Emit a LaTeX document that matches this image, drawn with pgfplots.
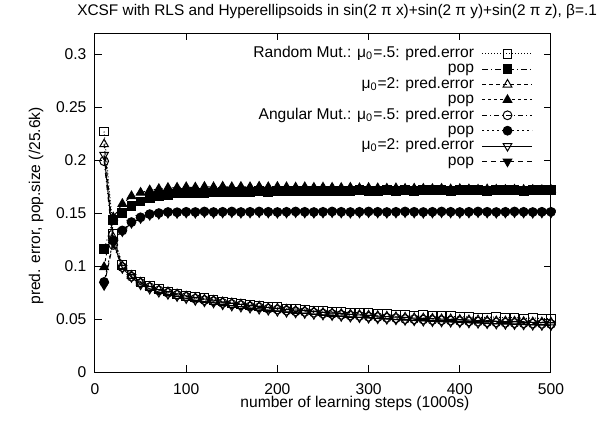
\documentclass[border=0pt]{standalone}
\usepackage{fontspec}
\setmainfont{Liberation Sans}
\usepackage{pgfplots}
\usepackage{pgfplotstable}
\pgfplotsset{compat=1.18}

\pgfplotstableread{
x   RA     RP     RB     RBP    AA     AP     AB     ABP
10  0.227  0.116  0.215  0.099  0.199  0.085  0.205  0.082
20  0.130  0.1435 0.127  0.146  0.120  0.124  0.123  0.122
30  0.101  0.150  0.100  0.1587 0.099  0.1336 0.098  0.1328
40  0.092  0.157  0.091  0.166  0.090  0.1415 0.0895 0.1407
50  0.085  0.161  0.0845 0.1693 0.084  0.146  0.0825 0.1452
60  0.081  0.164  0.0805 0.1715 0.080  0.149  0.0785 0.1482
70  0.078  0.1656 0.0775 0.1728 0.077  0.150  0.0755 0.1492
80  0.076  0.167  0.0755 0.1738 0.0748 0.151  0.0735 0.1502
90  0.074  0.1685 0.0735 0.174  0.0728 0.1508 0.0715 0.150
100 0.072  0.169  0.0715 0.1745 0.071  0.1512 0.0695 0.1504
110 0.0705 0.1692 0.070  0.1742 0.0692 0.151  0.0678 0.1502
120 0.0695 0.169  0.0685 0.1748 0.0678 0.1515 0.0665 0.1507
130 0.068  0.1695 0.0675 0.1745 0.0668 0.151  0.0655 0.1502
140 0.0665 0.170  0.066  0.175  0.0652 0.1512 0.0637 0.1504
150 0.0655 0.1698 0.065  0.1745 0.064  0.1515 0.0625 0.1507
160 0.0645 0.170  0.064  0.1748 0.063  0.151  0.0615 0.1502
170 0.0635 0.1702 0.0625 0.1745 0.0618 0.1512 0.0605 0.1504
180 0.0625 0.1705 0.062  0.175  0.061  0.1515 0.0595 0.1507
190 0.0615 0.170  0.0605 0.1745 0.0598 0.1512 0.0585 0.1504
200 0.061  0.1705 0.060  0.1748 0.059  0.151  0.0575 0.1502
210 0.060  0.171  0.059  0.1745 0.058  0.1512 0.0566 0.1504
220 0.0595 0.1705 0.058  0.1742 0.0572 0.1515 0.056  0.1507
230 0.059  0.171  0.0578 0.1745 0.0568 0.1512 0.0555 0.1504
240 0.058  0.1708 0.057  0.174  0.056  0.151  0.0546 0.1502
250 0.0575 0.171  0.056  0.1742 0.0552 0.1512 0.054  0.1504
260 0.057  0.1712 0.0558 0.174  0.0548 0.1515 0.0535 0.1507
270 0.0565 0.171  0.055  0.1738 0.054  0.1512 0.0527 0.1504
280 0.056  0.1712 0.0545 0.174  0.0533 0.151  0.052  0.1502
290 0.0555 0.1715 0.054  0.1735 0.053  0.1512 0.0515 0.1504
300 0.0555 0.171  0.0535 0.1738 0.0522 0.1515 0.051  0.1507
310 0.055  0.1712 0.053  0.1735 0.0518 0.1512 0.0505 0.1504
320 0.0545 0.1715 0.0525 0.1732 0.0512 0.151  0.050  0.1502
330 0.054  0.1712 0.052  0.1735 0.0508 0.1512 0.0495 0.1504
340 0.054  0.1715 0.0515 0.173  0.050  0.1515 0.049  0.1507
350 0.053  0.1712 0.051  0.1732 0.0498 0.1512 0.0486 0.1504
360 0.0535 0.1715 0.0508 0.173  0.0495 0.151  0.0482 0.1502
370 0.053  0.1718 0.0505 0.1728 0.049  0.1512 0.0478 0.1504
380 0.0525 0.1715 0.050  0.173  0.0488 0.1515 0.0475 0.1507
390 0.0525 0.1712 0.050  0.1725 0.0485 0.1512 0.0472 0.1504
400 0.052  0.1715 0.0495 0.1728 0.048  0.151  0.0468 0.1502
410 0.052  0.1718 0.049  0.1725 0.0478 0.1512 0.0465 0.1504
420 0.0515 0.1715 0.049  0.1722 0.0475 0.1515 0.0462 0.1507
430 0.0515 0.1712 0.0485 0.1725 0.047  0.1512 0.0458 0.1504
440 0.052  0.1715 0.048  0.1722 0.0468 0.151  0.0455 0.1502
450 0.051  0.1718 0.048  0.172  0.0465 0.1512 0.0452 0.1504
460 0.0515 0.1715 0.0478 0.1722 0.0462 0.1515 0.045  0.1507
470 0.0505 0.1712 0.0475 0.172  0.046  0.1512 0.0447 0.1504
480 0.051  0.1715 0.047  0.172  0.0457 0.151  0.0444 0.1502
490 0.0505 0.1715 0.047  0.1718 0.0455 0.1512 0.0442 0.1504
500 0.0505 0.1715 0.0468 0.172  0.0452 0.1512 0.044  0.1504
}\data

\begin{document}
\fontsize{7.8bp}{9.4bp}\selectfont
\begin{tikzpicture}
\begin{axis}[
  scale only axis, width=228bp, height=169.5bp,
  xmin=0, xmax=500, ymin=0, ymax=0.32,
  xtick={0,100,200,300,400,500},
  ytick={0,0.05,0.1,0.15,0.2,0.25,0.3},
  tick align=inside, tick pos=both, major tick length=3.5bp,
  axis line style={line width=0.5bp},
  every tick/.style={black, line width=0.5bp},
  /pgf/number format/assume math mode=true,
  yticklabel style={/pgf/number format/fixed, /pgf/number format/precision=2, xshift=-1.5bp},
  xticklabel style={yshift=-3bp},
  every axis title shift=0pt,
  title={XCSF with RLS and Hyperellipsoids in sin(2 π x)+sin(2 π y)+sin(2 π z), β=.1},
  title style={at={(axis description cs:0.531,1.062)}, anchor=center, inner sep=0pt,
    font=\fontsize{7.7bp}{9.2bp}\selectfont},
  xlabel={number of learning steps (1000s)},
  xlabel style={at={(axis description cs:0.570,-0.094)}, anchor=center, inner sep=0pt},
  ylabel={pred. error, pop.size (/25.6k)},
  ylabel style={at={(axis description cs:-0.129,0.49)}, anchor=center, inner sep=0pt},
  legend plot pos=right, legend cell align=right,
  legend image code/.code={\draw[mark repeat=2,mark phase=2,#1] plot coordinates {(0bp,0bp) (12.5bp,0bp) (25bp,0bp)};},
  legend style={draw=none, fill=none, inner sep=0pt, outer sep=0pt,
    at={(axis description cs:1,1)}, anchor=north east,
    xshift=-9bp, yshift=-6.5bp, column sep=4bp, row sep=0pt,
    nodes={inner sep=0pt, text height=5.7bp, text depth=2bp}},
  every axis plot/.append style={line width=0.5bp, black, mark size=2.2bp},
]
\coordinate (SW) at (rel axis cs:0,0);
\coordinate (NE) at (rel axis cs:1,1);
\addplot[dash pattern=on 0.5bp off 1bp, mark=square, mark options={solid}] table[x=x,y=RA]{\data};
\addlegendentry{Random Mut.: μ\textsubscript{0}=.5: pred.error}
\addplot[dash pattern=on 3bp off 1.5bp on 0.5bp off 1.5bp, mark=square*, mark options={solid, fill=black}] table[x=x,y=RP]{\data};
\addlegendentry{pop}
\addplot[dash pattern=on 2bp off 1.5bp, mark=triangle, mark options={solid}, mark size=2.5bp] table[x=x,y=RB]{\data};
\addlegendentry{μ\textsubscript{0}=2: pred.error}
\addplot[dash pattern=on 1.5bp off 1.5bp, mark=triangle*, mark options={solid, fill=black}, mark size=2.5bp] table[x=x,y=RBP]{\data};
\addlegendentry{pop}
\addplot[dash pattern=on 2.5bp off 1.5bp on 0.5bp off 1.5bp, mark=o, mark options={solid}] table[x=x,y=AA]{\data};
\addlegendentry{Angular Mut.: μ\textsubscript{0}=.5: pred.error}
\addplot[dash pattern=on 1bp off 1.5bp, mark=*, mark options={solid, fill=black}] table[x=x,y=AP]{\data};
\addlegendentry{pop}
\addplot[solid, mark=triangle, mark options={solid, rotate=180}, mark size=2.5bp] table[x=x,y=AB]{\data};
\addlegendentry{μ\textsubscript{0}=2: pred.error}
\addplot[dash pattern=on 2.5bp off 2bp, mark=triangle*, mark options={solid, rotate=180, fill=black}, mark size=2.5bp] table[x=x,y=ABP]{\data};
\addlegendentry{pop}
\end{axis}
\pgfresetboundingbox
\path[use as bounding box] ([shift={(-47.5bp,-36.5bp)}]SW) rectangle ([shift={(28bp,16.5bp)}]NE);
\end{tikzpicture}
\end{document}
